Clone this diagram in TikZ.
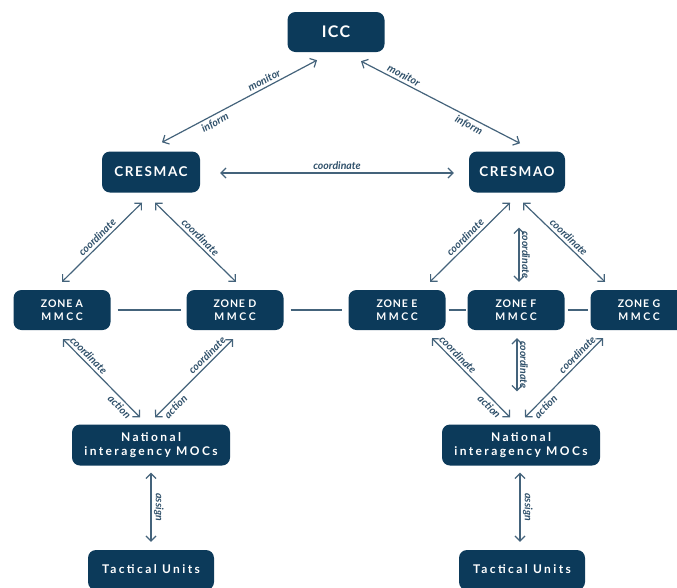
\documentclass[tikz,border=0pt]{standalone}
\usepackage{fontspec}
\setmainfont{Lato}
\usetikzlibrary{arrows.meta}
\definecolor{navy}{HTML}{0C3A5A}
\definecolor{arrowc}{HTML}{44637B}
\definecolor{lblc}{HTML}{2F506A}
\newcommand{\bxfont}{\bfseries\addfontfeature{LetterSpace=8}}
\newcommand{\wdfont}{\bfseries\addfontfeature{LetterSpace=20}}
\newcommand{\spaced}[1]{{\addfontfeature{LetterSpace=25}#1}}
\tikzset{
  box/.style={fill=navy, rounded corners=8pt, text=white, align=center, inner sep=0pt, minimum height=41pt},
  zonebox/.style={box, minimum width=97pt, minimum height=40pt, font=\fontsize{10.5}{12.5}\selectfont\bxfont},
  natbox/.style={box, minimum width=158pt, font=\fontsize{12}{14}\selectfont\wdfont},
  tacbox/.style={box, minimum width=126pt, minimum height=40pt, font=\fontsize{12}{14}\selectfont\wdfont},
  arr/.style={draw=arrowc, line width=1.2pt, {Straight Barb[length=5pt,width=10pt]}-{Straight Barb[length=5pt,width=10pt]}},
  plain/.style={draw=arrowc, line width=1.2pt},
  lbl/.style={font=\fontsize{10.5}{11}\selectfont\bfseries\itshape, text=lblc, inner sep=2.5pt}
}
\begin{document}
\begin{tikzpicture}[x=1pt,y=-1pt]
\useasboundingbox (0,0) rectangle (677,587);
\clip (0,0) rectangle (677,587);
% nodes
\node[box, minimum width=97pt, minimum height=40pt, font=\fontsize{16}{18}\selectfont\bxfont] (icc) at (336,32) {ICC};
\node[box, minimum width=98pt, font=\fontsize{13.5}{15}\selectfont\bfseries\addfontfeature{LetterSpace=12}] (cresmac) at (151,172) {CRESMAC};
\node[box, minimum width=96pt, font=\fontsize{13.5}{15}\selectfont\bfseries\addfontfeature{LetterSpace=12}] (cresmao) at (517,172) {CRESMAO};
\node[zonebox] (zA) at (62,310) {ZONE A\\\spaced{MMCC}};
\node[zonebox] (zD) at (235,310) {ZONE D\\\spaced{MMCC}};
\node[zonebox] (zE) at (397,310) {ZONE E\\\spaced{MMCC}};
\node[zonebox] (zF) at (516,310) {ZONE F\\\spaced{MMCC}};
\node[zonebox] (zG) at (639,310) {ZONE G\\\spaced{MMCC}};
\node[natbox] (natL) at (151,445) {National\\interagency MOCs};
\node[natbox] (natR) at (521,445) {National\\interagency MOCs};
\node[tacbox] (tacL) at (151,570) {\raisebox{2pt}{Tactical Units}};
\node[tacbox] (tacR) at (522,570) {\raisebox{2pt}{Tactical Units}};
% top arrows
\draw[arr] ([xshift=11pt,yshift=9pt]cresmac.north) -- ([xshift=-19pt,yshift=-8pt]icc.south)
  node[lbl, pos=0.32, sloped, below] {inform}
  node[lbl, pos=0.68, sloped, above] {monitor};
\draw[arr] ([xshift=25pt,yshift=-9pt]icc.south) -- ([xshift=3pt,yshift=8pt]cresmao.north)
  node[lbl, pos=0.25, sloped, above] {monitor}
  node[lbl, pos=0.70, sloped, below] {inform};
\draw[arr] ([xshift=20pt,yshift=-1pt]cresmac.east) -- ([xshift=-15pt,yshift=-1pt]cresmao.west)
  node[lbl, midway, above] {coordinate};
% CRESMAC to zones
\draw[arr] ([xshift=-9pt,yshift=-10pt]cresmac.south) -- ([yshift=8pt]zA.north)
  node[lbl, midway, sloped, above] {coordinate};
\draw[arr] ([xshift=4pt,yshift=-10pt]cresmac.south) -- ([xshift=1pt,yshift=8pt]zD.north)
  node[lbl, midway, sloped, above] {coordinate};
% CRESMAO to zones
\draw[arr] ([xshift=-7pt,yshift=-10pt]cresmao.south) -- ([xshift=33pt,yshift=8pt]zE.north)
  node[lbl, midway, sloped, above] {coordinate};
\draw[arr] ([xshift=2pt,yshift=-35pt]cresmao.south) -- ([xshift=3pt,yshift=8pt]zF.north)
  node[lbl, midway, rotate=-90, above] {coordinate};
\draw[arr] ([xshift=6pt,yshift=-10pt]cresmao.south) -- ([xshift=-34pt,yshift=8pt]zG.north)
  node[lbl, midway, sloped, above] {coordinate};
% zone links
\draw[plain, shorten <=7pt, shorten >=5pt] (zA) -- (zD);
\draw[plain, shorten <=7pt, shorten >=6pt] (zD) -- (zE);
\draw[plain, shorten <=3pt, shorten >=1pt] (zE) -- (zF);
\draw[plain, shorten <=3pt, shorten >=2pt] (zF) -- (zG);
% zones to national left
\draw[arr] ([xshift=1pt,yshift=-9pt]zA.south) -- ([xshift=-11pt,yshift=7pt]natL.north)
  node[lbl, pos=0.27, sloped, above] {coordinate}
  node[lbl, pos=0.80, sloped, below] {action};
\draw[arr] ([xshift=-2pt,yshift=-9pt]zD.south) -- ([xshift=4pt,yshift=7pt]natL.north)
  node[lbl, pos=0.27, sloped, above] {coordinate}
  node[lbl, pos=0.80, sloped, below] {action};
% zones to national right
\draw[arr] ([xshift=35pt,yshift=-8pt]zE.south) -- ([xshift=-11pt,yshift=7pt]natR.north)
  node[lbl, pos=0.27, sloped, above] {coordinate}
  node[lbl, pos=0.80, sloped, below] {action};
\draw[arr] ([xshift=1pt,yshift=-8pt]zF.south) -- ([xshift=-4pt,yshift=33pt]natR.north)
  node[lbl, midway, rotate=-90, above] {coordinate};
\draw[arr] ([xshift=-36pt,yshift=-8pt]zG.south) -- ([xshift=4pt,yshift=7pt]natR.north)
  node[lbl, pos=0.27, sloped, above] {coordinate}
  node[lbl, pos=0.80, sloped, below] {action};
% national to tactical
\draw[arr] ([yshift=-7pt]natL.south) -- ([yshift=8pt]tacL.north)
  node[lbl, midway, rotate=-90, above] {assign};
\draw[arr] ([xshift=-1pt,yshift=-7pt]natR.south) -- ([xshift=-2pt,yshift=8pt]tacR.north)
  node[lbl, midway, rotate=-90, above] {assign};
\end{tikzpicture}
\end{document}
